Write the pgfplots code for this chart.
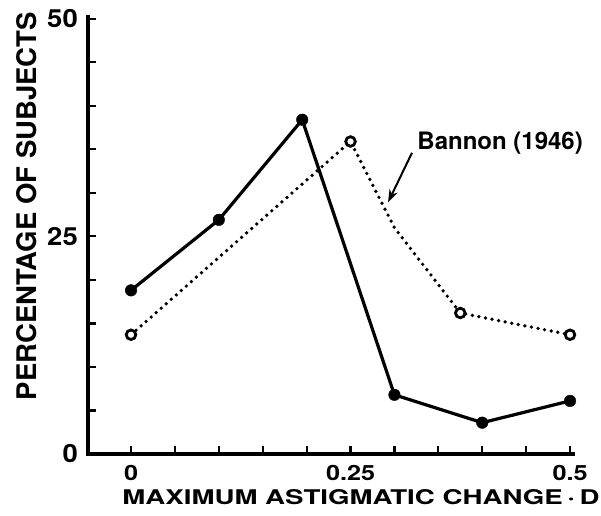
\documentclass[border=0pt]{standalone}
\usepackage{pgfplots}
\pgfplotsset{compat=1.18}
\usepackage{fontspec}
\setmainfont{TeX Gyre Heros}
\usetikzlibrary{arrows.meta}

% tick label helpers
\newcommand{\xtl}[1]{\fontsize{21}{21}\selectfont\bfseries\scalebox{1.2}[1]{#1}}
\newcommand{\ytl}[1]{\fontsize{25}{25}\selectfont\bfseries\scalebox{1.1}[1]{#1}}

\begin{document}
\begin{tikzpicture}
\begin{axis}[
  scale only axis,
  width=485pt, height=437pt,
  xmin=-0.049, xmax=0.5034,
  ymin=0, ymax=50.2,
  axis lines=left,
  axis line style={line width=4pt, -, line cap=rect},
  clip=false,
  tick align=inside,
  major tick length=8pt, minor tick length=8pt,
  tick style={line width=2.2pt, black},
  xtick={0,0.25,0.5},
  minor xtick={0.05,0.1,0.15,0.2,0.3,0.35,0.4,0.45},
  xticklabels={\xtl{0},\xtl{0.25},\xtl{0.5}},
  ytick={0,25,50},
  minor ytick={5,10,15,20,30,35,40,45},
  yticklabels={\ytl{0},\ytl{25},\ytl{50}},
  tick label style={inner sep=0pt},
  xticklabel shift=11pt,
  yticklabel shift=10pt,
]
% present study
\addplot[black, line width=3.2pt, mark=*, mark size=5.8pt,
  mark options={solid, line width=0.4pt}]
  coordinates {(0,18.8) (0.1,26.9) (0.195,38.4) (0.3,6.8) (0.4,3.6) (0.5,6.1)};
% Bannon (1946)
\addplot[black, line width=3.7pt, line cap=round, dash pattern=on 0pt off 6.7pt,
  mark=*, mark size=4.8pt, mark indices={1,2,4,5},
  mark options={solid, fill=white, line width=2.8pt}]
  coordinates {(0,13.7) (0.25,35.9) (0.3,26) (0.375,16.2) (0.5,13.7)};

\node[anchor=base west, inner sep=0pt, font=\fontsize{24}{24}\selectfont\bfseries]
  at (axis cs:0.326,35.0) {Bannon (1946)};
\draw[line width=2pt, -{Stealth[length=13pt, width=9pt]}]
  (axis cs:0.320,34.6) -- (axis cs:0.2927,28.9);

\coordinate (O) at (rel axis cs:0,0);
\end{axis}
% axis titles
\node[inner sep=0pt] at ([shift={(273pt,-43pt)}]O)
  {\resizebox{477pt}{15pt}{\bfseries MAXIMUM ASTIGMATIC CHANGE\,·\,D}};
\node[inner sep=0pt] at ([shift={(-61pt,248pt)}]O)
  {\rotatebox{90}{\resizebox{388pt}{20pt}{\bfseries PERCENTAGE OF SUBJECTS}}};
\path ([shift={(-88pt,-61pt)}]O) rectangle ++(601pt,515pt);
\end{tikzpicture}
\end{document}
